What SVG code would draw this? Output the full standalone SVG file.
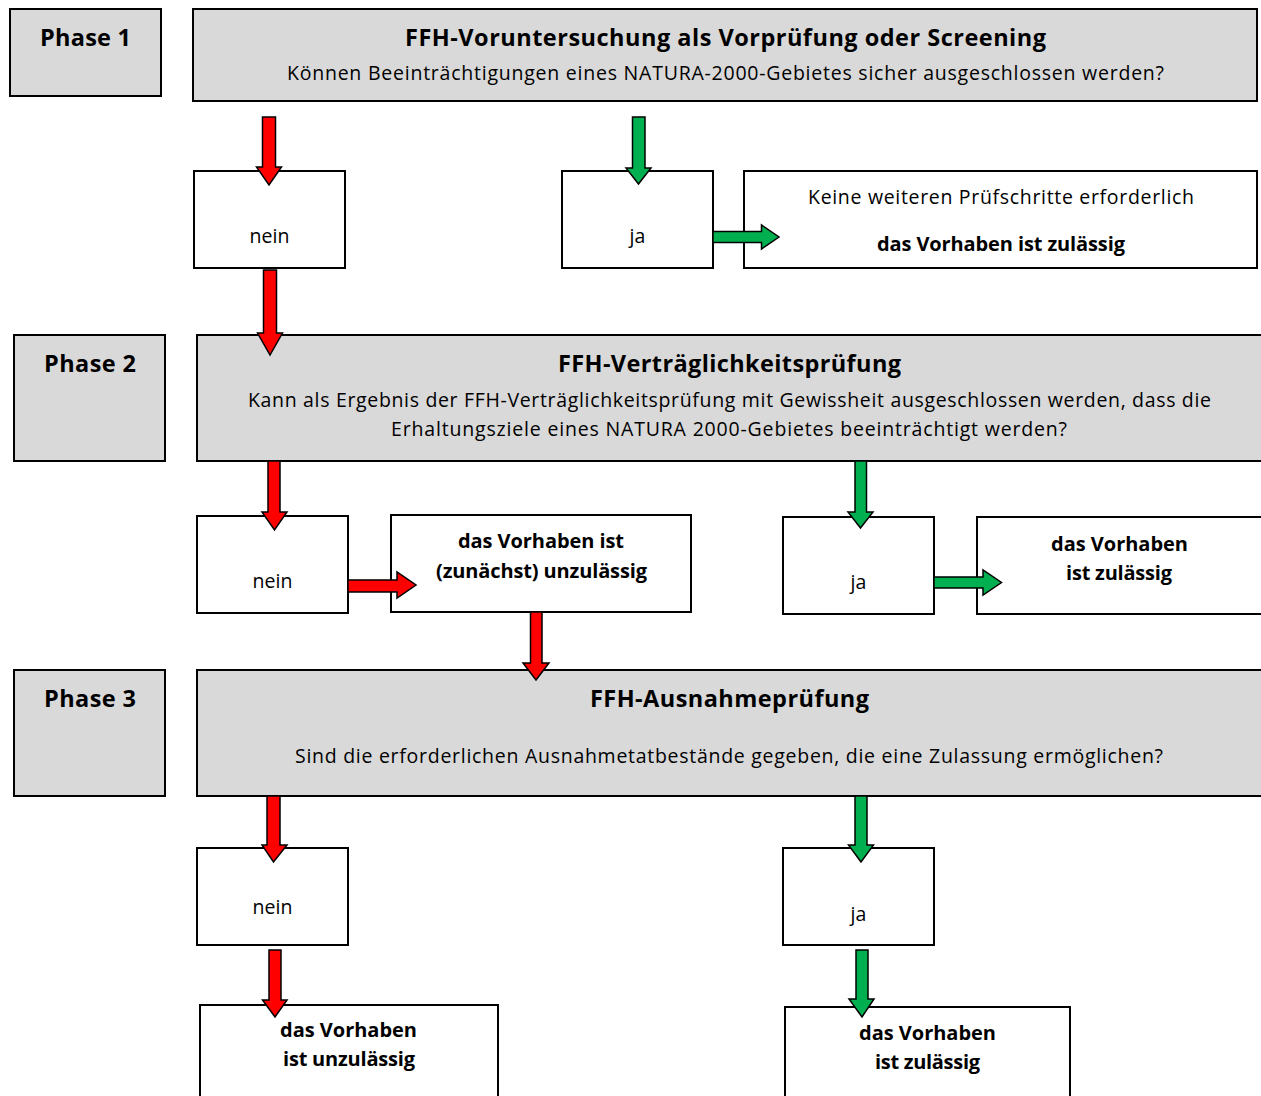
<svg xmlns="http://www.w3.org/2000/svg" width="1261" height="1096" viewBox="0 0 1261 1096">
<style>
text{font-family:"Open Sans","Noto Sans","Liberation Sans",sans-serif;fill:#000;text-anchor:middle}
.g{fill:#d9d9d9;stroke:#000;stroke-width:2}
.w{fill:#fff;stroke:#000;stroke-width:2}
.ph{font-size:23.5px;font-weight:bold}
.t{font-size:23.5px;font-weight:bold}
.s{font-size:19.5px}
.b{font-size:20px;font-weight:bold}
.r{fill:#ff0000;stroke:#000;stroke-width:1.5;stroke-linejoin:miter}
.gr{fill:#00b050;stroke:#000;stroke-width:1.5;stroke-linejoin:miter}
</style>
<rect width="1261" height="1096" fill="#fff"/>

<g id="phase1"><rect class="g" x="10" y="9" width="151" height="87"/><text class="ph" x="85.5" y="46" textLength="91">Phase 1</text></g>
<g id="head1"><rect class="g" x="193" y="9" width="1064" height="92"/>
<text class="t" x="725.5" y="46" textLength="641">FFH-Voruntersuchung als Vorprüfung oder Screening</text>
<text class="s" x="725.5" y="80" textLength="877">Können Beeinträchtigungen eines NATURA-2000-Gebietes sicher ausgeschlossen werden?</text></g>
<g id="nein1"><rect class="w" x="194" y="171" width="151" height="97"/><text class="s" x="269.5" y="243">nein</text></g>
<g id="ja1"><rect class="w" x="562" y="171" width="151" height="97"/><text class="s" x="637.5" y="243">ja</text></g>
<g id="ok1"><rect class="w" x="744" y="171" width="513" height="97"/>
<text class="s" x="1001" y="204" textLength="386">Keine weiteren Prüfschritte erforderlich</text>
<text class="b" x="1001" y="251" textLength="248">das Vorhaben ist zulässig</text></g>

<g id="phase2"><rect class="g" x="14" y="335" width="151" height="126"/><text class="ph" x="90" y="372" textLength="92">Phase 2</text></g>
<g id="head2"><rect class="g" x="197" y="335" width="1066" height="126"/>
<text class="t" x="729.5" y="372" textLength="343">FFH-Verträglichkeitsprüfung</text>
<text class="s" x="729.5" y="407" textLength="963">Kann als Ergebnis der FFH-Verträglichkeitsprüfung mit Gewissheit ausgeschlossen werden, dass die</text>
<text class="s" x="729" y="436" textLength="676">Erhaltungsziele eines NATURA 2000-Gebietes beeinträchtigt werden?</text></g>
<g id="nein2"><rect class="w" x="197" y="516" width="151" height="97"/><text class="s" x="272.5" y="588">nein</text></g>
<g id="unz2"><rect class="w" x="391" y="515" width="300" height="97"/>
<text class="b" x="541" y="548" textLength="166">das Vorhaben ist</text>
<text class="b" x="541.5" y="578" textLength="211">(zunächst) unzulässig</text></g>
<g id="ja2"><rect class="w" x="783" y="517" width="151" height="97"/><text class="s" x="858.5" y="589">ja</text></g>
<g id="ok2"><rect class="w" x="977" y="517" width="286" height="97"/>
<text class="b" x="1119.5" y="551" textLength="137">das Vorhaben</text>
<text class="b" x="1119" y="580" textLength="106">ist zulässig</text></g>

<g id="phase3"><rect class="g" x="14" y="670" width="151" height="126"/><text class="ph" x="90" y="707" textLength="92">Phase 3</text></g>
<g id="head3"><rect class="g" x="197" y="670" width="1066" height="126"/>
<text class="t" x="729.5" y="707" textLength="279">FFH-Ausnahmeprüfung</text>
<text class="s" x="729" y="763" textLength="868">Sind die erforderlichen Ausnahmetatbestände gegeben, die eine Zulassung ermöglichen?</text></g>
<g id="nein3"><rect class="w" x="197" y="848" width="151" height="97"/><text class="s" x="272.5" y="914">nein</text></g>
<g id="unz3"><rect class="w" x="200" y="1005" width="298" height="100"/>
<text class="b" x="348.5" y="1037" textLength="137">das Vorhaben</text>
<text class="b" x="349" y="1066" textLength="132">ist unzulässig</text></g>
<g id="ja3"><rect class="w" x="783" y="848" width="151" height="97"/><text class="s" x="858.5" y="921">ja</text></g>
<g id="ok3"><rect class="w" x="785" y="1007" width="285" height="100"/>
<text class="b" x="927.5" y="1040" textLength="137">das Vorhaben</text>
<text class="b" x="927.5" y="1069" textLength="105">ist zulässig</text></g>

<g id="connectors">
<polygon class="r" points="262.5,117 275.5,117 275.5,167 281.5,167 269,185 256.5,167 262.5,167"/>
<polygon class="r" points="263.5,270 276.5,270 276.5,333 282.5,333 270,355 257.5,333 263.5,333"/>
<polygon class="gr" points="632.5,117 645,117 645,168 651,168 638.5,184 626,168 632.5,168"/>
<polygon class="gr" points="713,231.5 761.5,231.5 761.5,225 779,237 761.5,249 761.5,242.5 713,242.5"/>

<polygon class="r" points="268,461 280,461 280,512 287,512 274.5,530 262,512 268,512"/>
<polygon class="r" points="348,580 397,580 397,572 416,585 397,598 397,592 348,592"/>
<polygon class="r" points="530.5,612 542,612 542,663 549,663 536,680 523,663 530.5,663"/>
<polygon class="gr" points="855,461 866.5,461 866.5,512 873,512 860.5,528 848,512 855,512"/>
<polygon class="gr" points="934,577 983,577 983,570 1001.5,582.5 983,595 983,588 934,588"/>

<polygon class="r" points="267,796 280,796 280,845 287,845 273.5,862 262,845 267,845"/>
<polygon class="r" points="269,950 281,950 281,1000 287,1000 275,1017 262.5,1000 269,1000"/>
<polygon class="gr" points="855,796 867,796 867,845 873.5,845 861,862 848.5,845 855,845"/>
<polygon class="gr" points="856,950 868,950 868,999 874,999 862,1017 849,999 856,999"/>
</g>
</svg>
